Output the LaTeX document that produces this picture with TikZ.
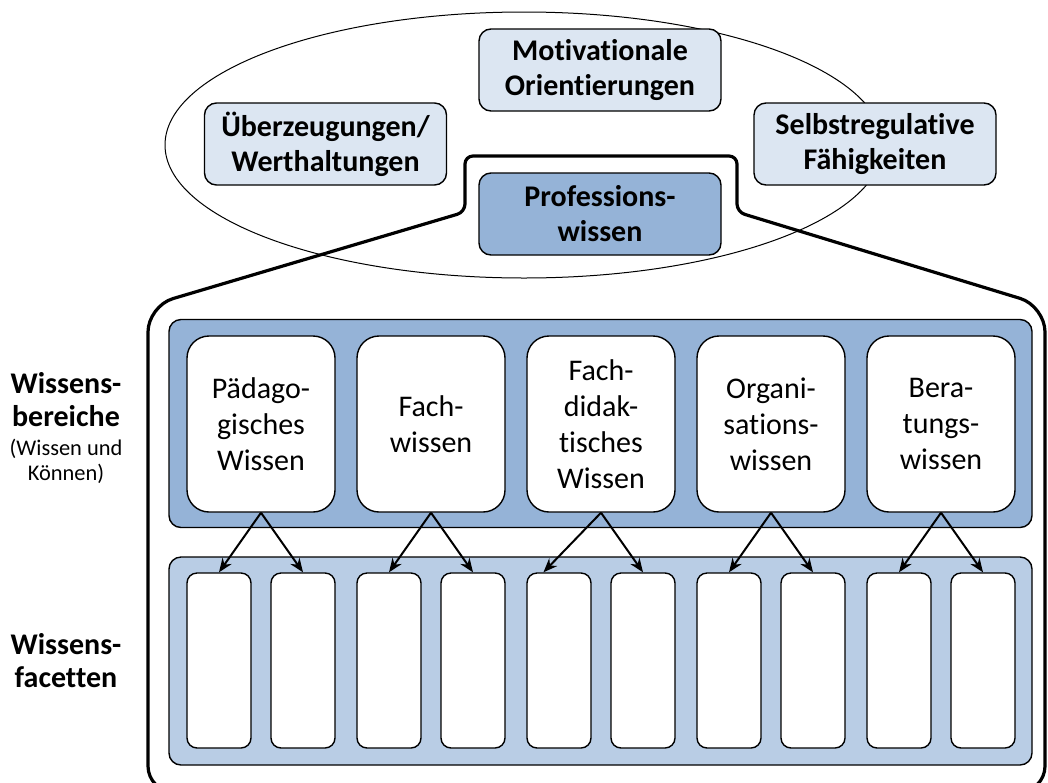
\documentclass[tikz,border=0pt]{standalone}
\usepackage{fontspec}
\setmainfont{Carlito}[Ligatures=NoCommon]
\usetikzlibrary{arrows.meta}

\definecolor{lightbox}{HTML}{DCE6F2}
\definecolor{midblue}{HTML}{95B3D7}
\definecolor{paleblue}{HTML}{B9CDE5}

\tikzstyle{outer}=[draw, line width=0.7pt, fill=lightbox, rounded corners=6pt, minimum width=121pt, minimum height=41pt, align=center, font=\bfseries\fontsize{15}{17.5}\selectfont]
\tikzstyle{prof}=[outer, fill=midblue]
\tikzstyle{band}=[draw, line width=0.7pt, rounded corners=6pt, minimum width=431.5pt, minimum height=104pt]
\tikzstyle{bereich}=[draw, line width=0.7pt, fill=white, rounded corners=11pt, minimum width=74pt, minimum height=88pt, align=center, font=\fontsize{15}{18}\selectfont]
\tikzstyle{facette}=[draw, line width=0.7pt, fill=white, rounded corners=5pt, minimum width=32pt, minimum height=87.5pt]
\tikzstyle{side}=[align=center, font=\bfseries\fontsize{15}{16.5}\selectfont]
\tikzstyle{note}=[align=center, font=\fontsize{11.2}{12.5}\selectfont]
\tikzstyle{pfeil}=[-{Stealth[length=7pt,width=5.5pt]}, line width=1pt]
\tikzstyle{outline}=[line width=1.6pt]

\begin{document}
\begin{tikzpicture}[x=0.5pt, y=-0.5pt]
        \useasboundingbox (0,0) rectangle (1048,782);
        % ellipse and bracket
        \draw[line width=0.5pt] (524,145) ellipse [x radius=179.5pt, y radius=66.5pt];
        \draw[outline] (600,792) [rounded corners=13pt] -- (148,792) -- (148,306) [rounded corners=4pt] -- (465,212) -- (465,156) -- (737,156) -- (737,212) [rounded corners=13pt] -- (1045,306) -- (1045,792) -- (600,792);
        %
        \draw (600,70)  node[outer](motiv){Motivationale\\Orientierungen};
        \draw (325.5,144) node[outer](ueber){Überzeugungen/\\Werthaltungen};
        \draw (875,144) node[outer](selbst){Selbstregulative\\Fähigkeiten};
        \draw (600,214) node[prof](prof){Professions-\\wissen};
        %
        \draw (600.5,423.5) node[band,fill=midblue](bereiche){};
        \draw (600.5,661)   node[band,fill=paleblue](facetten){};
        %
        \draw (261,424) node[bereich](paed){Pädago-\\gisches\\Wissen};
        \draw (431,424) node[bereich](fach){Fach-\\wissen};
        \draw (601,424) node[bereich](fdid){Fach-\\didak-\\tisches\\Wissen};
        \draw (771,424) node[bereich](orga){Organi-\\sations-\\wissen};
        \draw (941,424) node[bereich](bera){Bera-\\tungs-\\wissen};
        %
        \draw (219,660.5) node[facette](paed1){};
        \draw (303,660.5) node[facette](paed2){};
        \draw (389,660.5) node[facette](fach1){};
        \draw (473,660.5) node[facette](fach2){};
        \draw (559,660.5) node[facette](fdid1){};
        \draw (643,660.5) node[facette](fdid2){};
        \draw (729,660.5) node[facette](orga1){};
        \draw (813,660.5) node[facette](orga2){};
        \draw (899,660.5) node[facette](bera1){};
        \draw (983,660.5) node[facette](bera2){};
        %
        \path[pfeil]
            (paed.south)    edge    (paed1.north)
            (paed.south)    edge    (paed2.north)
            (fach.south)    edge    (fach1.north)
            (fach.south)    edge    (fach2.north)
            (fdid.south)    edge    (fdid1.100)
            (fdid.south)    edge    (fdid2.north)
            (orga.south)    edge    (orga1.north)
            (orga.south)    edge    (orga2.north)
            (bera.south)    edge    (bera1.north)
            (bera.south)    edge    (bera2.north)
        ;
        %
        \draw (66,400)   node[side](bereichlabel){Wissens-\\bereiche};
        \draw (66,461.5) node[note](notelabel){(Wissen und\\Können)};
        \draw (66,661)   node[side](facettenlabel){Wissens-\\facetten};
        %;
\end{tikzpicture}
\end{document}
